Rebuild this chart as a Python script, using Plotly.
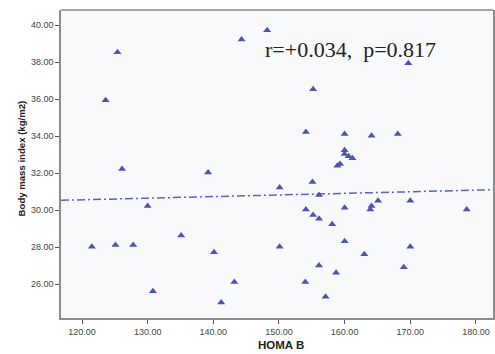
import plotly.graph_objects as go

homa_b = [125.4, 123.6, 126.1, 139.2, 144.3, 148.2, 169.7, 155.2, 154.1, 160.0,
          164.1, 168.1, 160.0, 160.0, 160.6, 161.2, 159.3, 158.9, 130.0, 121.5,
          125.1, 127.8, 135.1, 140.1, 130.8, 141.2, 143.2, 150.1, 155.1, 156.1,
          154.1, 155.2, 156.1, 158.1, 160.0, 163.9, 164.1, 165.1, 170.0, 178.6,
          150.1, 160.0, 170.0, 163.0, 156.1, 169.0, 158.7, 154.0, 157.1]
bmi = [38.53, 35.94, 32.22, 32.04, 39.23, 39.73, 37.94, 36.53, 34.23, 34.12,
       34.02, 34.12, 33.24, 33.03, 32.92, 32.81, 32.49, 32.40, 30.23, 28.02,
       28.12, 28.12, 28.63, 27.73, 25.61, 25.01, 26.11, 31.23, 31.52, 30.82,
       30.03, 29.74, 29.53, 29.24, 30.13, 30.03, 30.23, 30.51, 30.51, 30.03,
       28.02, 28.32, 28.02, 27.62, 27.01, 26.92, 26.61, 26.11, 25.32]

x_ticks = [120, 130, 140, 150, 160, 170, 180]
y_ticks = [26, 28, 30, 32, 34, 36, 38, 40]
x_range = [116.8, 182.6]
y_range = [24.17, 40.82]

fit_at_120 = 30.56
fit_slope = 0.0087
fit_x = x_range
fit_y = [fit_at_120 + fit_slope * (v - 120) for v in fit_x]

stats_text = "r=+0.034,  p=0.817"

fig = go.Figure()
fig.add_trace(go.Scatter(
    x=fit_x, y=fit_y, mode="lines",
    line=dict(color="#5b5fc7", width=1.5, dash="8px,3px,2px,3px"),
    hoverinfo="skip", showlegend=False))
fig.add_trace(go.Scatter(
    x=homa_b, y=bmi, mode="markers",
    marker=dict(symbol="triangle-up", size=7, color="#4f52b0",
                line=dict(width=0)),
    showlegend=False))

axis_common = dict(
    showgrid=False, zeroline=False, ticks="outside", ticklen=4,
    tickcolor="#555555", tickwidth=1, showline=True, linecolor="#8c8c8c",
    linewidth=1.5, tickfont=dict(family="Arial", size=9, color="#444444"),
    tickformat=".2f")

fig.update_layout(
    width=495, height=354,
    margin=dict(l=61, r=0, t=10, b=36),
    paper_bgcolor="#ffffff", plot_bgcolor="#f8f9fa",
    xaxis=dict(range=x_range, tickvals=x_ticks, mirror=False, **axis_common),
    yaxis=dict(range=y_range, tickvals=y_ticks, mirror=True, **axis_common),
    annotations=[
        dict(text=stats_text, xref="paper", yref="paper", x=0.468, y=0.873,
             xanchor="left", yanchor="middle", showarrow=False,
             font=dict(family="Liberation Serif", size=22, color="#222222")),
        dict(text="<b>HOMA B</b>", xref="paper", yref="paper", x=0.4516,
             y=-0.0877, xanchor="left", yanchor="middle", showarrow=False,
             font=dict(family="Arial", size=11.5, color="#222222")),
        dict(text="<b>Body mass index (kg/m2)</b>", xref="paper", yref="paper",
             x=-0.092, y=0.519, xanchor="center", yanchor="middle",
             textangle=-90, showarrow=False,
             font=dict(family="Arial", size=9.6, color="#222222")),
    ],
)
# top frame line
fig.add_shape(type="line", xref="paper", yref="paper", x0=0, x1=1, y0=1, y1=1,
              line=dict(color="#8c8c8c", width=1.5))

fig.write_html("out.html", config={"displayModeBar": False},
               post_script="document.body.style.margin='0';")
